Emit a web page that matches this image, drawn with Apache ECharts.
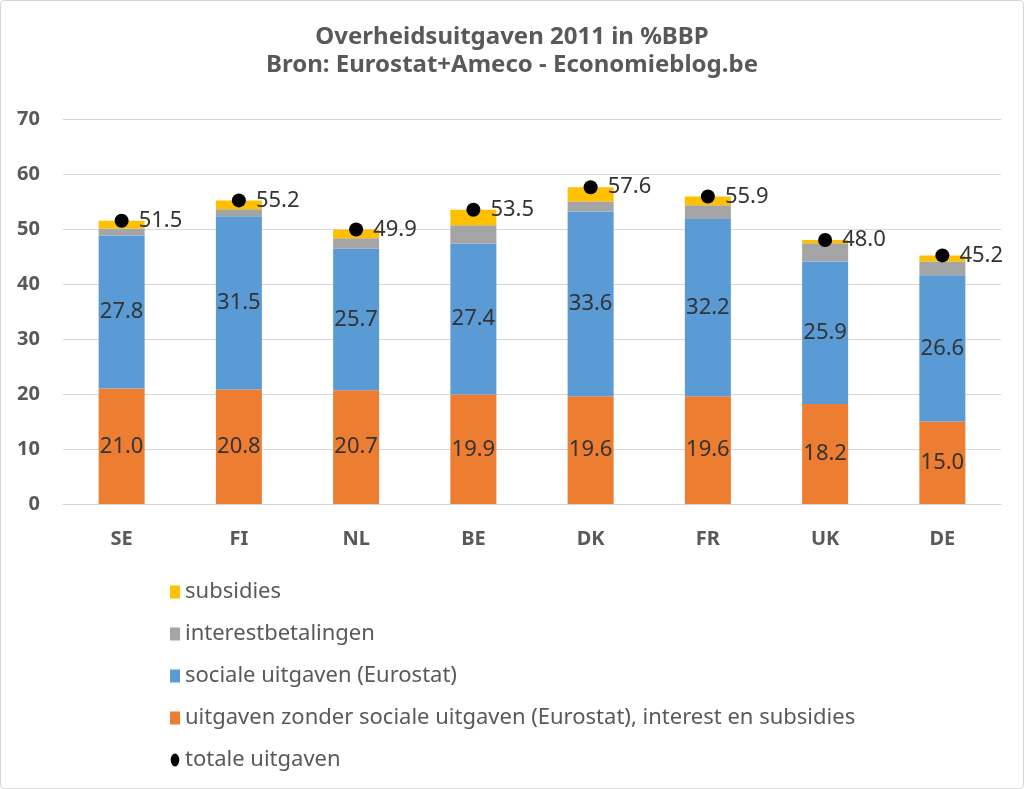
<!DOCTYPE html>
<html><head><meta charset="utf-8">
<script src="https://cdn.jsdelivr.net/npm/echarts@6/dist/echarts.min.js"></script>
<style>html,body{margin:0;padding:0;background:#fff}#c{position:absolute;left:0;top:0;width:1022px;height:787px;border:1px solid #d9d9d9;border-radius:4px}</style>
</head><body><div id="c"></div>
<script>
const categories = ['SE','FI','NL','BE','DK','FR','UK','DE'];
const overig = [21.0,20.8,20.7,19.9,19.6,19.6,18.2,15.0];
const sociaal = [27.8,31.5,25.7,27.4,33.6,32.2,25.9,26.6];
const interest = [1.3,1.3,1.9,3.4,1.8,2.5,3.3,2.5];
const subsidies = [1.4,1.6,1.6,2.8,2.6,1.6,0.6,1.1];
const totaal = [51.5,55.2,49.9,53.5,57.6,55.9,48.0,45.2];
const yTicks = [0,10,20,30,40,50,60,70];

const FONT = '"Noto Sans", "Open Sans", sans-serif';
const chart = echarts.init(document.getElementById('c'));
const inLabel = {show:true, position:'inside', color:'#333333', fontSize:22, fontFamily:FONT, formatter:p=>p.value.toFixed(1)};
chart.setOption({
  animation:false,
  title:{text:'Overheidsuitgaven 2011 in %BBP\nBron: Eurostat+Ameco - Economieblog.be', left:'center', top:17,
    textStyle:{fontSize:24, fontWeight:'bold', color:'#595959', fontFamily:FONT, lineHeight:28}},
  grid:{left:62, right:22, top:118, bottom:284},
  legend:{orient:'vertical', left:164, top:575, itemWidth:10, itemHeight:13, itemGap:20, itemTextGap:5,
    textStyle:{fontSize:22, color:'#595959', fontFamily:FONT},
    data:[{name:'subsidies',icon:'rect'},{name:'interestbetalingen',icon:'rect'},{name:'sociale uitgaven (Eurostat)',icon:'rect'},
      {name:'uitgaven zonder sociale uitgaven (Eurostat), interest en subsidies',icon:'rect'},
      {name:'totale uitgaven',icon:'path://M5,0A5,7.5 0 1 1 5,15A5,7.5 0 1 1 5,0Z'}]},
  xAxis:{type:'category', data:categories, axisTick:{show:false},
    axisLine:{lineStyle:{color:'#d9d9d9'}},
    axisLabel:{fontSize:20, fontWeight:'bold', color:'#595959', fontFamily:FONT, margin:25}},
  yAxis:{type:'value', min:yTicks[0], max:yTicks[yTicks.length-1], interval:10,
    axisLine:{show:false}, axisTick:{show:false},
    splitLine:{lineStyle:{color:'#d9d9d9'}},
    axisLabel:{fontSize:20, fontWeight:'bold', color:'#595959', fontFamily:FONT, margin:23}},
  series:[
    {name:'uitgaven zonder sociale uitgaven (Eurostat), interest en subsidies', type:'bar', stack:'t', data:overig, barWidth:46,
      itemStyle:{color:'#ED7D31'}, label:inLabel},
    {name:'sociale uitgaven (Eurostat)', type:'bar', stack:'t', data:sociaal, itemStyle:{color:'#5B9BD5'}, label:inLabel},
    {name:'interestbetalingen', type:'bar', stack:'t', data:interest, itemStyle:{color:'#A5A5A5'}},
    {name:'subsidies', type:'bar', stack:'t', data:subsidies, itemStyle:{color:'#FFC000'}},
    {name:'totale uitgaven', type:'scatter', data:totaal, symbolSize:14, itemStyle:{color:'#000', opacity:1}, z:5,
      label:{show:true, position:'right', distance:10, color:'#333333', fontSize:22, fontFamily:FONT, formatter:p=>p.value.toFixed(1)}}
  ]
});
</script></body></html>
